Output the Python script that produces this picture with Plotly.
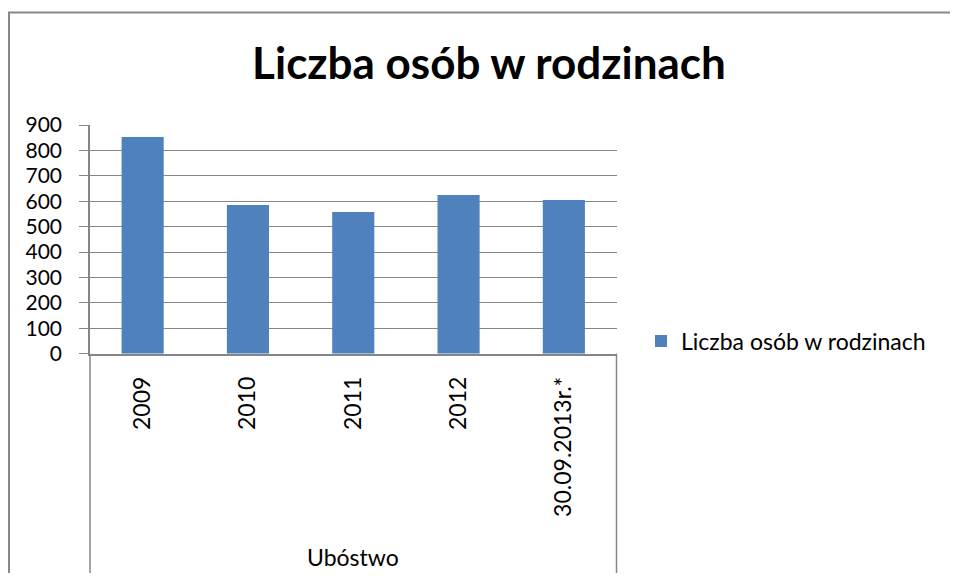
import plotly.graph_objects as go

title_text = "Liczba osób w rodzinach"
series_name = "Liczba osób w rodzinach"
group_label = "Ubóstwo"
categories = ["2009", "2010", "2011", "2012", "30.09.2013r.*"]
values = [853, 585, 558, 625, 605]
y_ticks = [0, 100, 200, 300, 400, 500, 600, 700, 800, 900]

# page body has an 8px margin on every side; keep the figure inside the window
OFF = 8
W, H = 958 - 2 * OFF, 581 - 2 * OFF
GRAY = "#868686"
FONT = "Lato"


def px(X):
    return (X - OFF) / W


def py(Y):
    return 1 - (Y - OFF) / H


x0p, x1p = px(90), px(616.5)
y0p, y1p = py(353.7), py(125.1)

fig = go.Figure()
fig.add_trace(go.Bar(
    x=categories, y=values, name=series_name,
    marker=dict(color="#4F81BD", line=dict(width=0)),
    width=0.4, showlegend=True,
))

n = len(categories)
boundaries = [i - 0.5 for i in range(n + 1)]

fig.update_layout(
    width=W, height=H,
    margin=dict(l=0, r=0, t=0, b=0, autoexpand=False),
    paper_bgcolor="white", plot_bgcolor="white",
    font=dict(family=FONT, color="black", size=20),
    title=dict(text=title_text, x=px(489), xanchor="center", y=py(64), yanchor="middle",
               font=dict(family=FONT, size=44, color="black", weight="bold")),
    showlegend=True,
    legend=dict(x=px(641), xanchor="left", y=py(341), yanchor="middle",
                font=dict(size=23, family=FONT, color="black"), bgcolor="rgba(0,0,0,0)"),
    xaxis=dict(domain=[x0p, x1p], type="category", range=[-0.5, n - 0.5], automargin=False,
               showline=True, linecolor=GRAY, linewidth=1.5, showgrid=False,
               ticks="", tickangle=-90, ticklabelstandoff=12,
               tickfont=dict(size=23, family=FONT, color="black"), anchor="y"),
    xaxis2=dict(domain=[x0p, x1p], overlaying="x", anchor="y", side="bottom", automargin=False,
                type="linear", range=[-0.5, n - 0.5], tickmode="array", tickvals=boundaries,
                ticks="outside", ticklen=170, tickwidth=1.5, tickcolor=GRAY,
                showticklabels=False, showgrid=False, zeroline=False, showline=False),
    yaxis=dict(domain=[y0p, y1p], range=[0, 900], tickmode="array", tickvals=y_ticks,
               automargin=False,
               showgrid=True, gridcolor=GRAY, gridwidth=1.3, zeroline=False,
               showline=True, linecolor=GRAY, linewidth=1.5,
               ticks="outside", ticklen=9, tickwidth=1.3, tickcolor=GRAY,
               ticklabelstandoff=13, tickfont=dict(size=21, family=FONT, color="black")),
    bargap=0.6,
)

# outer dividers of the category axis
for xd in (0, 1):
    fig.add_shape(type="line", xref="x domain", yref="paper", x0=xd, x1=xd,
                  y0=y0p, y1=0, line=dict(color=GRAY, width=1.5))

# group label
fig.add_annotation(text=group_label, xref="x domain", yref="paper", x=0.5, y=py(557),
                   xanchor="center", yanchor="middle", showarrow=False,
                   font=dict(size=23, family=FONT, color="black"))

# chart border (left and top edges visible) as one open path
bx, bt = 1 / W, py(12.5)
fig.add_shape(type="path", xref="paper", yref="paper",
              path=f"M {bx},0 L {bx},{bt} L 1,{bt}",
              line=dict(color="#888888", width=2), fillcolor="rgba(0,0,0,0)", layer="below")

fig.write_html("out.html")
